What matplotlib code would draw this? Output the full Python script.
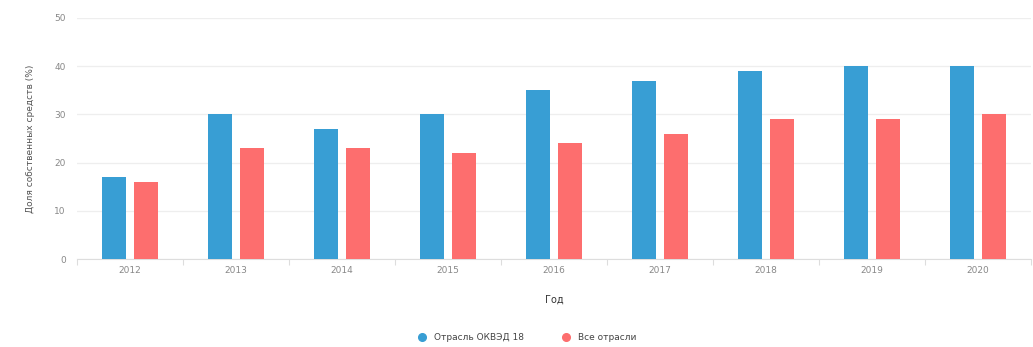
import matplotlib
matplotlib.use("Agg")
import matplotlib.pyplot as plt
import numpy as np
from matplotlib.lines import Line2D

years = ["2012", "2013", "2014", "2015", "2016", "2017", "2018", "2019", "2020"]
okved18 = [17, 30, 27, 30, 35, 37, 39, 40, 40]
all_sectors = [16, 23, 23, 22, 24, 26, 29, 29, 30]
series_names = ["Отрасль ОКВЭД 18", "Все отрасли"]
y_ticks = [0, 10, 20, 30, 40, 50]

blue = "#389ed4"
red = "#fd6e6e"

plt.rcParams["font.family"] = ["DejaVu Sans"]

fig = plt.figure(figsize=(10.33, 3.47), dpi=100)
ax = fig.add_axes([0.0745, 0.2536, 0.9235, 0.6946])

x = np.arange(len(years))
width = 0.225
offset = 0.15
ax.bar(x - offset, okved18, width, color=blue, zorder=3)
ax.bar(x + offset, all_sectors, width, color=red, zorder=3)

ax.set_xlim(-0.5, len(years) - 0.5)
ax.set_ylim(0, 50)
ax.set_yticks(y_ticks)
ax.set_yticklabels([str(v) for v in y_ticks], fontsize=6.5, color="#888888")
ax.set_xticks(x)
ax.set_xticklabels(years, fontsize=6.5, color="#888888")
ax.tick_params(axis="y", length=0, pad=8)
ax.tick_params(axis="x", length=0, pad=5)
ax.set_xticks(np.arange(len(years) + 1) - 0.5, minor=True)
ax.tick_params(axis="x", which="minor", length=4, color="#dddddd", width=0.8)

ax.grid(axis="y", color="#eeeeee", linewidth=0.9, zorder=0)
for side in ("top", "right", "left"):
    ax.spines[side].set_visible(False)
ax.spines["bottom"].set_color("#dddddd")

ax.set_ylabel("Доля собственных средств (%)", fontsize=6.5, color="#555555", labelpad=14)
ax.set_xlabel("Год", fontsize=7, color="#333333", labelpad=14)

handles = [
    Line2D([], [], marker="o", linestyle="none", markersize=5.5, color=blue),
    Line2D([], [], marker="o", linestyle="none", markersize=5.5, color=red),
]
fig.legend(handles, series_names, loc="center", bbox_to_anchor=(0.508, 0.026),
           ncol=2, frameon=False, fontsize=6.5, handletextpad=0.3,
           columnspacing=3.7, labelcolor="#444444")

fig.savefig("out.png", dpi=100, facecolor="white")
